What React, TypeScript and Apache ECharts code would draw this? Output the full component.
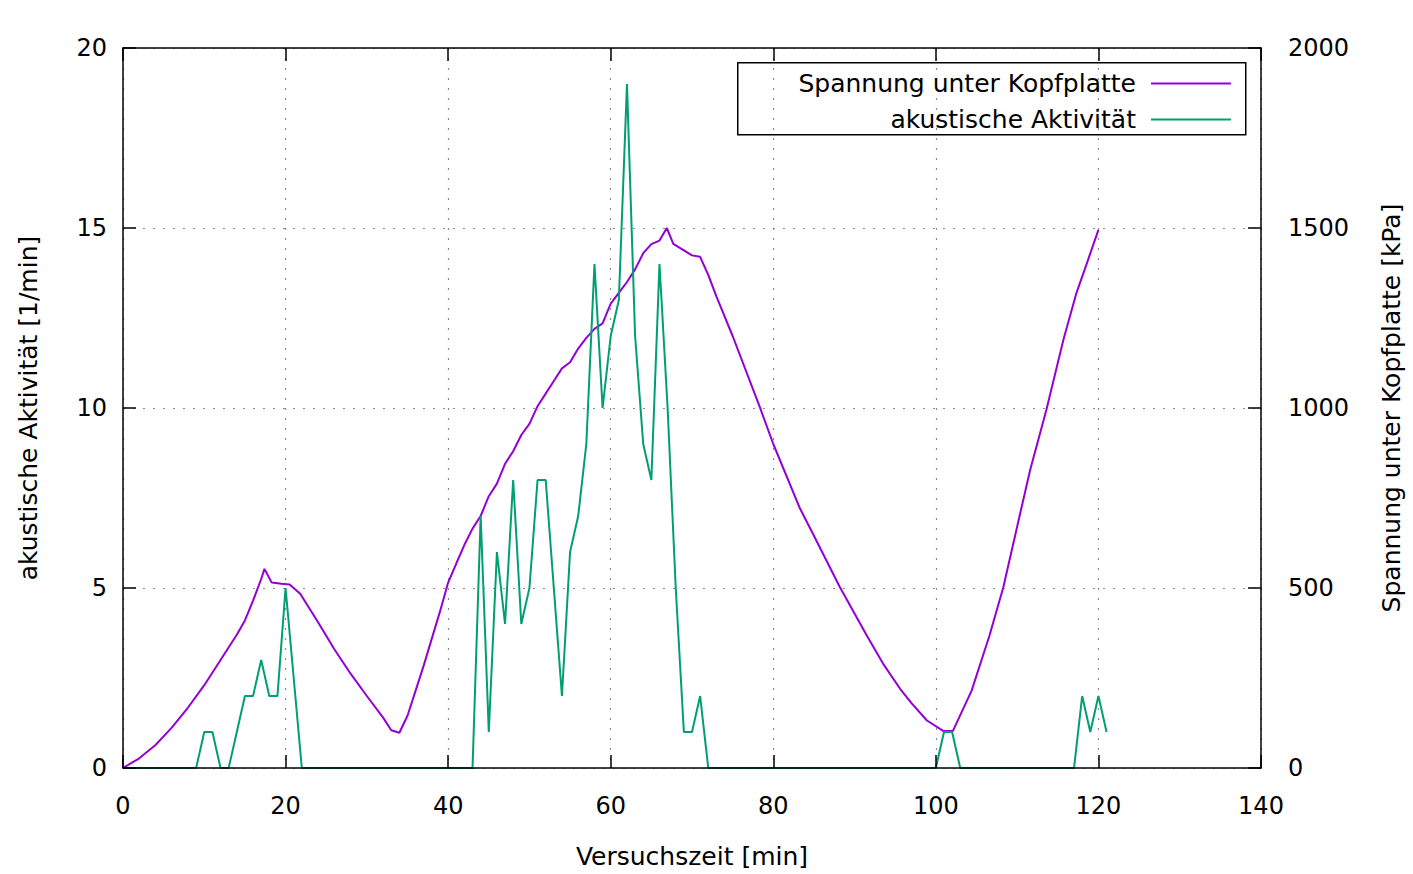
import React, { useEffect, useRef } from "react";
import * as echarts from "echarts";

// Acoustic activity (left axis, 1/min)
const acousticTime = [0, 9, 10, 11, 12, 13, 14, 15, 16, 17, 18, 19, 20, 21, 22,
  43, 44, 45, 46, 47, 48, 49, 50, 51, 52, 53, 54, 55, 56, 57, 58, 59, 60, 61, 62, 63, 64, 65, 66, 67, 68, 69, 70, 71, 72,
  100, 101, 102, 103,
  117, 118, 119, 120, 121];
const acousticValue = [0, 0, 1, 1, 0, 0, 1, 2, 2, 3, 2, 2, 5, 2.5, 0,
  0, 7, 1, 6, 4, 8, 4, 5, 8, 8, 5, 2, 6, 7, 9, 14, 10, 12, 13, 19, 12, 9, 8, 14, 10, 5, 1, 1, 2, 0,
  0, 1, 1, 0,
  0, 2, 1, 2, 1];

// Stress under head plate (right axis, kPa)
const pressureTime = [0, 2, 4, 6, 8, 10, 12, 14, 15, 16, 17, 17.4, 18.3, 19.5, 20.5, 21.8, 24, 26, 28, 30,
  32, 33, 34, 35, 36, 37, 38, 39, 40, 41, 42, 43, 44, 45, 46, 47, 48, 49, 50, 51,
  52, 53, 54, 55, 56, 57, 58, 59, 60, 61, 62, 63, 64, 65, 66, 66.9, 67.7, 69, 70, 71,
  72, 73, 75, 78.3, 80, 83.3, 85, 88.2, 91.5, 93.5, 95.6, 97, 98.9, 100.9, 102.1, 104.4, 106.6, 108.3, 110.3, 111.6, 113.6, 115.7,
  117.3, 118.5, 120];
const pressureValue = [0, 27, 64, 112, 168, 230, 300, 370, 410, 465, 525, 553, 515, 512, 510, 484, 405, 330, 262, 200,
  140, 105, 98, 145, 215, 285, 360, 435, 515, 568, 620, 665, 700, 755, 790, 845, 880, 925, 956, 1005,
  1040, 1075, 1110, 1127, 1165, 1195, 1220, 1235, 1290, 1320, 1350, 1385, 1430, 1455, 1465, 1500, 1456, 1438, 1424, 1420,
  1370, 1310, 1200, 1005, 900, 720, 645, 502, 368, 290, 220, 180, 132, 103, 103, 215, 368, 502, 700, 828, 995, 1190,
  1320, 1397, 1495];

const xTicks = { min: 0, max: 140, interval: 20 };
const leftTicks = { min: 0, max: 20, interval: 5 };
const rightTicks = { min: 0, max: 2000, interval: 500 };

const nameAcoustic = "akustische Aktivität";
const namePressure = "Spannung unter Kopfplatte";

const FONT = "DejaVu Sans";
const PURPLE = "#9400d3";
const GREEN = "#009e73";

export default function App() {
  const ref = useRef<HTMLDivElement>(null);
  useEffect(() => {
    if (!ref.current) return;
    const chart = echarts.init(ref.current, null, { renderer: "svg" });
    const axisLineStyle = { color: "#000", width: 1.5 };
    const tickStyle = { show: true, inside: true, length: 13, lineStyle: { color: "#000", width: 1.5 } };
    const gridLine = { show: true, lineStyle: { color: "#8c8c8c", type: [2, 8] as any, width: 1.2 } };
    const label = { color: "#000", fontSize: 24, fontFamily: FONT, formatter: (v: number) => String(v) };
    const legendText = { color: "#000", fontSize: 25, fontFamily: FONT, padding: [0, 10, 0, 0] };
    chart.setOption({
      animation: false,
      backgroundColor: "#fff",
      textStyle: { fontFamily: FONT },
      grid: { left: 123, width: 1138, top: 48, height: 726, containLabel: false },
      legend: [
        {
          data: [namePressure], right: 182, top: 71, padding: 0, align: "right", orient: "vertical",
          icon: "rect", itemWidth: 80, itemHeight: 2, selectedMode: false, textStyle: legendText,
        },
        {
          data: [nameAcoustic], right: 182, top: 107, padding: 0, align: "right", orient: "vertical",
          icon: "rect", itemWidth: 80, itemHeight: 2, selectedMode: false, textStyle: legendText,
        },
      ],
      graphic: [
        {
          type: "rect", left: 737, top: 62, z: 100,
          shape: { width: 508, height: 72 },
          style: { fill: "transparent", stroke: "#000", lineWidth: 1.5 },
        },
      ],
      xAxis: [
        {
          type: "value", ...xTicks, position: "bottom", z: 10,
          axisLine: { show: true, lineStyle: axisLineStyle }, axisTick: tickStyle,
          axisLabel: { ...label, margin: 26 }, splitLine: { show: false },
          name: "Versuchszeit [min]", nameLocation: "middle", nameGap: 76,
          nameTextStyle: { color: "#000", fontSize: 25, fontFamily: FONT },
        },
        {
          type: "value", ...xTicks, position: "top", z: 10,
          axisLine: { show: true, onZero: false, lineStyle: axisLineStyle }, axisTick: tickStyle,
          axisLabel: { show: false }, splitLine: { show: false },
        },
        {
          type: "value", ...xTicks, position: "bottom", z: 0,
          axisLine: { show: false }, axisTick: { show: false }, axisLabel: { show: false },
          splitLine: gridLine,
        },
      ],
      yAxis: [
        {
          type: "value", ...leftTicks, position: "left", z: 10,
          axisLine: { show: true, onZero: false, lineStyle: axisLineStyle }, axisTick: tickStyle,
          axisLabel: { ...label, margin: 16 }, splitLine: { show: false },
          name: "akustische Aktivität [1/min]", nameLocation: "middle", nameGap: 82, nameRotate: 90,
          nameTextStyle: { color: "#000", fontSize: 25, fontFamily: FONT },
        },
        {
          type: "value", ...rightTicks, position: "right", z: 10,
          axisLine: { show: true, onZero: false, lineStyle: axisLineStyle }, axisTick: tickStyle,
          axisLabel: { ...label, margin: 27 }, splitLine: { show: false },
          name: "Spannung unter Kopfplatte [kPa]", nameLocation: "middle", nameGap: 118, nameRotate: 90,
          nameTextStyle: { color: "#000", fontSize: 25, fontFamily: FONT },
        },
        {
          type: "value", ...leftTicks, position: "left", z: 0,
          axisLine: { show: false }, axisTick: { show: false }, axisLabel: { show: false },
          splitLine: gridLine,
        },
      ],
      series: [
        {
          name: namePressure, type: "line", xAxisIndex: 0, yAxisIndex: 1,
          data: pressureTime.map((t, i) => [t, pressureValue[i]]),
          showSymbol: false, symbol: "none", color: PURPLE,
          lineStyle: { color: PURPLE, width: 2 }, z: 2,
        },
        {
          name: nameAcoustic, type: "line", xAxisIndex: 0, yAxisIndex: 0,
          data: acousticTime.map((t, i) => [t, acousticValue[i]]),
          showSymbol: false, symbol: "none", color: GREEN,
          lineStyle: { color: GREEN, width: 2 }, z: 3,
        },
      ],
    });
    return () => chart.dispose();
  }, []);
  return (
    <div
      ref={ref}
      style={{ position: "fixed", left: 0, top: 0, width: 1413, height: 874, background: "#fff" }}
    />
  );
}
